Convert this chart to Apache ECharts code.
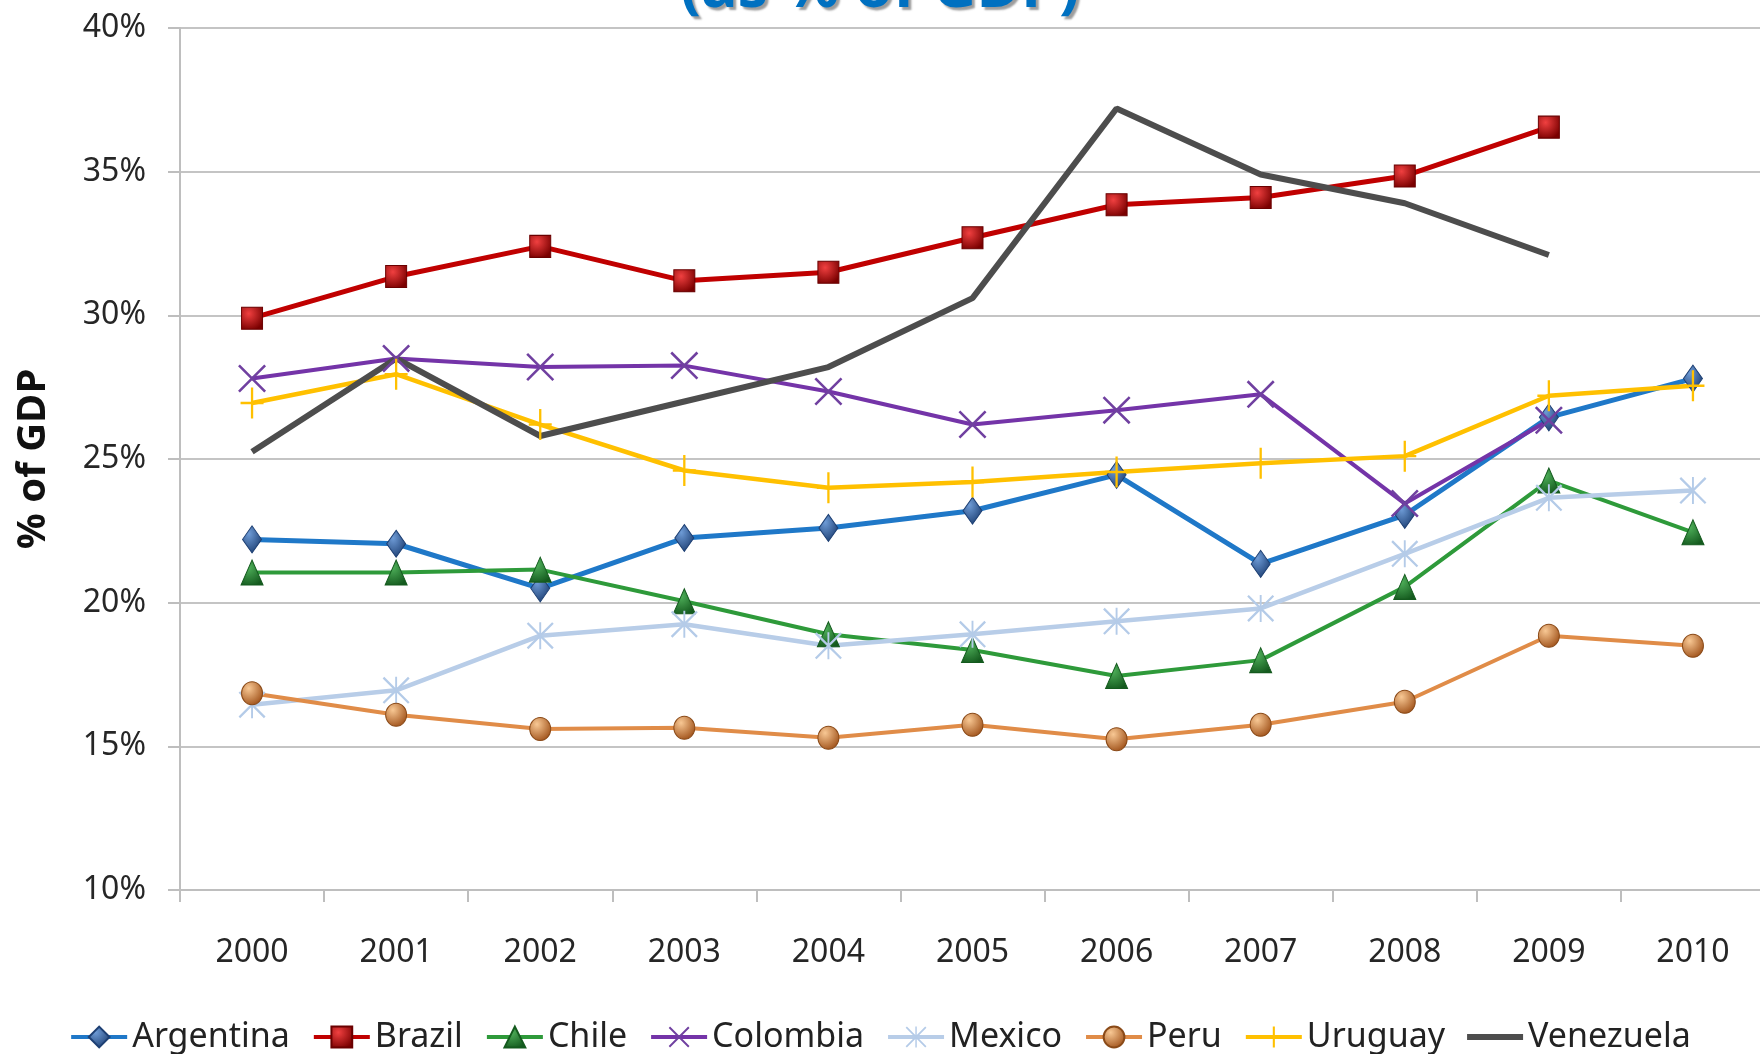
<!DOCTYPE html>
<html>
<head>
<meta charset="utf-8">
<script src="https://cdn.jsdelivr.net/npm/echarts@6/dist/echarts.min.js"></script>
<style>
  html, body { margin: 0; padding: 0; background: #ffffff; }
  #chart { width: 1760px; height: 1054px; }
</style>
</head>
<body>
<div id="chart"></div>
<script>
// Years on the category axis
var years = ['2000', '2001', '2002', '2003', '2004', '2005', '2006', '2007', '2008', '2009', '2010'];

// Values in % of GDP
var argentina = [22.2, 22.05, 20.5, 22.25, 22.6, 23.2, 24.45, 21.35, 23.05, 26.45, 27.8];
var brazil    = [29.9, 31.35, 32.4, 31.2, 31.5, 32.7, 33.85, 34.1, 34.85, 36.55, null];
var chile     = [21.05, 21.05, 21.15, 20.05, 18.9, 18.35, 17.45, 18.0, 20.55, 24.25, 22.45];
var colombia  = [27.8, 28.5, 28.2, 28.25, 27.35, 26.2, 26.7, 27.25, 23.45, 26.35, null];
var mexico    = [16.45, 16.95, 18.85, 19.25, 18.5, 18.9, 19.35, 19.8, 21.7, 23.65, 23.9];
var peru      = [16.85, 16.1, 15.6, 15.65, 15.3, 15.75, 15.25, 15.75, 16.55, 18.85, 18.5];
var uruguay   = [26.95, 27.95, 26.2, 24.6, 24.0, 24.2, 24.55, 24.85, 25.1, 27.2, 27.55];
var venezuela = [25.25, 28.5, 25.8, 27.0, 28.2, 30.6, 37.2, 34.9, 33.9, 32.1, null];

var yTicks = { min: 10, max: 40, step: 5 };

var FONT = '"Noto Sans", "Open Sans", sans-serif';

function ball(light, dark) {
  return new echarts.graphic.RadialGradient(0.35, 0.3, 0.75, [
    { offset: 0, color: light },
    { offset: 1, color: dark }
  ]);
}

// Stroke-like marker shapes built as filled paths
var crossPath = 'path://M0,1.3 L1.3,0 L20,18.7 L18.7,20 Z M18.7,0 L20,1.3 L1.3,20 L0,18.7 Z';
var starPath = 'path://M0,1.2 L1.2,0 L20,18.8 L18.8,20 Z M18.8,0 L20,1.2 L1.2,20 L0,18.8 Z M9.3,0 L10.7,0 L10.7,20 L9.3,20 Z';
var plusPath = 'path://M9,0 L11,0 L11,20 L9,20 Z M0,9.2 L20,9.2 L20,10.8 L0,10.8 Z';
var barIcon = 'path://M0,0 L56,0 L56,6 L0,6 Z';

function mk(name, data, lineColor, width, symbol, size, fill, border) {
  return {
    name: name,
    type: 'line',
    data: data,
    symbol: symbol,
    symbolSize: size,
    showSymbol: symbol !== 'none',
    connectNulls: false,
    animation: false,
    lineStyle: { color: lineColor, width: width },
    itemStyle: { color: fill, borderColor: border || 'transparent', borderWidth: border ? 1 : 0 },
    emphasis: { disabled: true }
  };
}

var series = [
  mk('Argentina', argentina, '#1F78C8', 5, 'diamond', [19, 27], ball('#6E9BD6', '#1D3F73'), '#1D3F73'),
  mk('Brazil', brazil, '#C00000', 5, 'rect', [21, 22], ball('#F04040', '#7A0000'), '#6A0000'),
  mk('Chile', chile, '#2E9A3A', 4, 'triangle', [22, 25], ball('#4FB05A', '#145A1E'), '#145A1E'),
  mk('Colombia', colombia, '#7434A8', 4, crossPath, [28, 28], '#7040A0'),
  mk('Mexico', mexico, '#B8CDE8', 4.5, starPath, [27, 27], '#B4CBE8'),
  mk('Peru', peru, '#E08C48', 4, 'circle', [21, 23], ball('#F8C894', '#A0521A'), '#8A4A18'),
  mk('Uruguay', uruguay, '#FFC000', 4.5, plusPath, [23, 31], '#FFC000'),
  mk('Venezuela', venezuela, '#4D4D4D', 6, 'none', 0, '#4D4D4D')
];

var legendItems = series.map(function (s) {
  return s.name === 'Venezuela' ? { name: s.name, icon: barIcon } : { name: s.name };
});

var chart = echarts.init(document.getElementById('chart'), null, { renderer: 'canvas' });

chart.setOption({
  backgroundColor: '#ffffff',
  textStyle: { fontFamily: FONT },
  grid: { left: 180, top: 28, width: 1585, height: 862, containLabel: false, outerBoundsMode: 'none' },
  graphic: [{
    type: 'text',
    left: 'center',
    top: -41,
    style: {
      text: '(as % of GDP)',
      font: 'bold 61px ' + FONT,
      fill: '#0070C0',
      textShadowColor: 'rgba(90,90,90,0.6)',
      textShadowOffsetX: 3,
      textShadowOffsetY: 3,
      textShadowBlur: 2
    },
    z: 100
  }],
  legend: {
    top: 1015,
    left: 'center',
    itemWidth: 56,
    itemHeight: 26,
    itemGap: 22,
    lineStyle: { width: 4 },
    textStyle: { fontSize: 34, color: '#222222', fontFamily: FONT },
    data: legendItems
  },
  xAxis: {
    type: 'category',
    data: years,
    boundaryGap: true,
    axisLine: { lineStyle: { color: '#BEBEBE', width: 2 } },
    axisTick: { show: true, alignWithLabel: false, length: 12, lineStyle: { color: '#BEBEBE', width: 2 } },
    axisLabel: { fontSize: 32, color: '#262626', margin: 47, fontFamily: FONT },
    splitLine: { show: false }
  },
  yAxis: {
    type: 'value',
    min: yTicks.min,
    max: yTicks.max,
    interval: yTicks.step,
    name: '% of GDP',
    nameLocation: 'middle',
    nameGap: 126,
    nameTextStyle: { fontSize: 40, fontWeight: 'bold', color: '#111111', fontFamily: FONT },
    axisLine: { show: true, lineStyle: { color: '#BEBEBE', width: 2 } },
    axisTick: { show: true, length: 12, lineStyle: { color: '#BEBEBE', width: 2 } },
    axisLabel: { fontSize: 32, color: '#262626', margin: 34, formatter: '{value}%', fontFamily: FONT },
    splitLine: { show: true, lineStyle: { color: '#C4C4C4', width: 2 } }
  },
  series: series
});
</script>
</body>
</html>
